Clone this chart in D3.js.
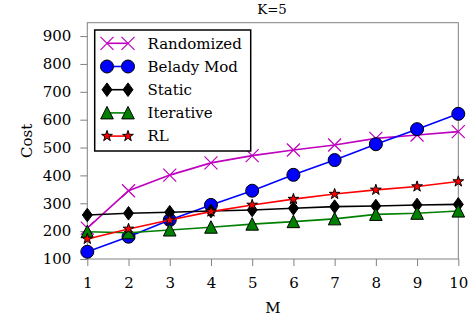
<!DOCTYPE html>
<html><head><meta charset="utf-8">
<script src="https://cdn.jsdelivr.net/npm/d3@7"></script>
<style>body{margin:0;background:#fff}svg{display:block}svg text{font-family:'DejaVu Serif' !important}</style>
</head><body>
<svg id="c" width="476" height="324" font-family="DejaVu Serif"></svg>
<script>
const M = [1,2,3,4,5,6,7,8,9,10];
const randomized = [211,345,401,445,471,491,509,533,545,557];
const beladyMod  = [126,180,240,294,345,402,455,512,566,621];
const staticS    = [258,264,268,272,276,282,288,290,294,296];
const iterative  = [198,194,204,214,225,234,244,260,264,272];
const rl         = [172,208,240,270,294,315,333,348,360,378];
const yTicks = [100,200,300,400,500,600,700,800,900];
const seriesNames = ["Randomized","Belady Mod","Static","Iterative","RL"];

const series = [
  {name:seriesNames[0], values:randomized, color:"#bf00bf", marker:"x"},
  {name:seriesNames[1], values:beladyMod, color:"#0000ff", marker:"o"},
  {name:seriesNames[2], values:staticS, color:"#000000", marker:"d"},
  {name:seriesNames[3], values:iterative, color:"#008000", marker:"^"},
  {name:seriesNames[4], values:rl, color:"#ff0000", marker:"*"}
];

const svg = d3.select("#c");
const L=87.3, R=458.3, T=22.7, B=259;
const x = d3.scaleLinear().domain([1,10]).range([L,R]);
const y = d3.scaleLinear().domain([100,948]).range([B,T]);
const grey="#808080";

const gx = svg.append("g").attr("transform",`translate(0,${B})`)
  .call(d3.axisBottom(x).tickValues(M).tickFormat(d3.format("d")).tickSize(7).tickPadding(11));
const gy = svg.append("g").attr("transform",`translate(${L},0)`)
  .call(d3.axisLeft(y).tickValues(yTicks).tickSize(7).tickPadding(9));
[gx,gy].forEach(g=>{
  g.attr("font-family","DejaVu Serif").attr("font-size",15);
  g.select(".domain").remove();
  g.selectAll(".tick line").attr("stroke",grey).attr("stroke-width",1);
  g.selectAll(".tick text").attr("fill","#000");
});
svg.append("rect").attr("x",L).attr("y",T).attr("width",R-L).attr("height",B-T)
  .attr("fill","none").attr("stroke",grey).attr("stroke-width",1);

svg.append("text").attr("x",272).attr("y",14).attr("text-anchor","middle").attr("font-size",13.3).text("K=5");
svg.append("text").attr("x",273).attr("y",313).attr("text-anchor","middle").attr("font-size",15).text("M");
svg.append("text").attr("transform",`translate(32,${(T+B)/2}) rotate(-90)`).attr("text-anchor","middle").attr("font-size",15).text("Cost");

function markerPath(m){
  if(m==="o") return d3.symbol(d3.symbolCircle,133)();
  if(m==="d") return "M0,-6.8L5,0L0,6.8L-5,0Z";
  if(m==="^") return "M0,-6.5L6.3,6L-6.3,6Z";
  if(m==="*") return d3.symbol(d3.symbolStar,36)();
  if(m==="x") return "M-6.5,-6.5L6.5,6.5M-6.5,6.5L6.5,-6.5";
}
function drawMarker(g,s,cx,cy){
  const p = g.append("path").attr("d",markerPath(s.marker)).attr("transform",`translate(${cx},${cy})`);
  if(s.marker==="x") p.attr("fill","none").attr("stroke",s.color).attr("stroke-width",1.2);
  else p.attr("fill",s.color).attr("stroke","#000").attr("stroke-width",1);
}

const line = d3.line().x((d,i)=>x(M[i])).y(d=>y(d));
const plot = svg.append("g");
series.forEach(s=>{
  const g = plot.append("g");
  g.append("path").attr("d",line(s.values)).attr("fill","none").attr("stroke",s.color).attr("stroke-width",1.6);
  s.values.forEach((v,i)=>drawMarker(g,s,x(M[i]),y(v)));
});

const lg = svg.append("g");
lg.append("rect").attr("x",94.7).attr("y",30).attr("width",156).attr("height",121)
  .attr("fill","#fff").attr("stroke","#000").attr("stroke-width",1.5);
series.forEach((s,i)=>{
  const cy = 43.3 + i*23.2;
  lg.append("line").attr("x1",107).attr("x2",128).attr("y1",cy).attr("y2",cy).attr("stroke",s.color).attr("stroke-width",1.6);
  drawMarker(lg,s,107,cy); drawMarker(lg,s,128,cy);
  lg.append("text").attr("x",147.5).attr("y",cy).attr("dy","0.35em").attr("font-size",15).text(s.name);
});
</script>
</body></html>
